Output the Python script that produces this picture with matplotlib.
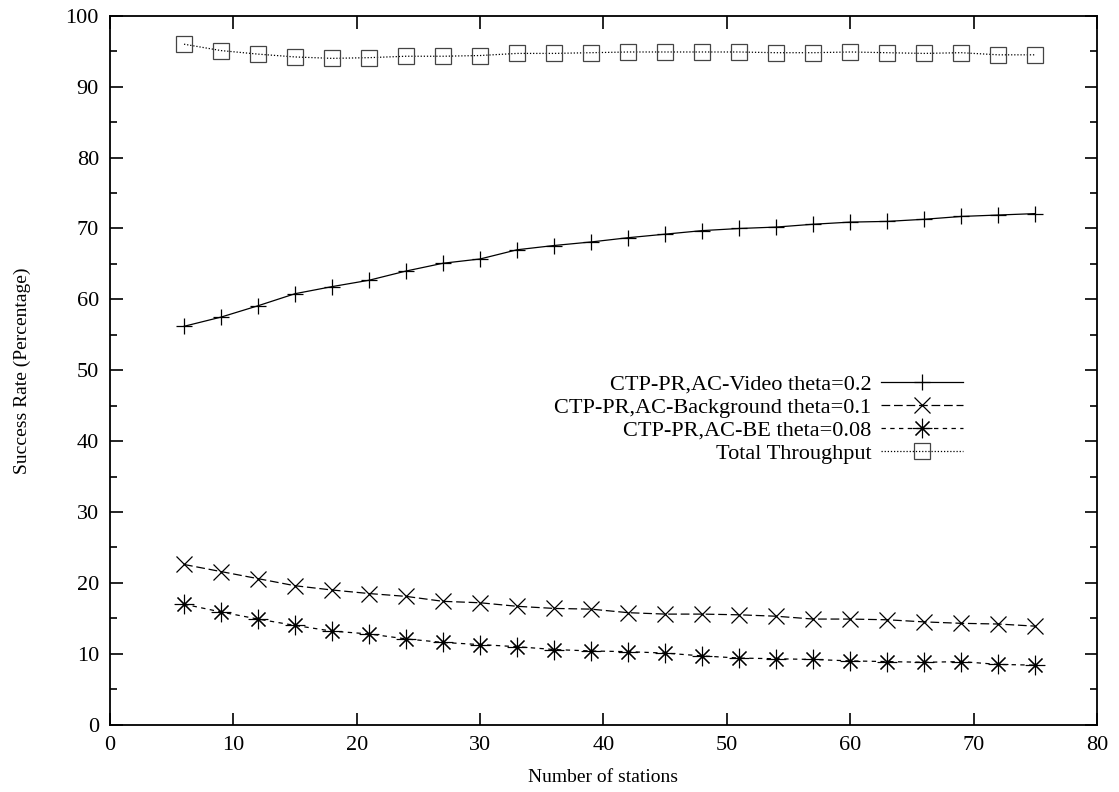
import numpy as np
import matplotlib
matplotlib.use('Agg')
import matplotlib.pyplot as plt
from matplotlib.ticker import MultipleLocator

plt.rcParams['font.family'] = ['Liberation Serif', 'DejaVu Serif']

stations = list(range(6, 76, 3))

video = [56.2, 57.5, 59.1, 60.8, 61.8, 62.7, 64.0, 65.1, 65.7, 67.0, 67.6, 68.1,
         68.7, 69.2, 69.7, 70.0, 70.2, 70.6, 70.9, 71.0, 71.3, 71.7, 71.9, 72.1]
background = [22.6, 21.6, 20.6, 19.6, 19.0, 18.5, 18.1, 17.4, 17.2, 16.7, 16.4, 16.3,
              15.8, 15.6, 15.6, 15.5, 15.3, 14.9, 14.9, 14.8, 14.5, 14.3, 14.2, 13.9]
best_effort = [17.0, 15.9, 14.9, 14.0, 13.2, 12.8, 12.1, 11.6, 11.3, 11.0, 10.6, 10.4,
               10.3, 10.1, 9.7, 9.4, 9.3, 9.2, 9.0, 8.9, 8.8, 8.9, 8.5, 8.4]
total = [96.0, 95.1, 94.6, 94.2, 94.0, 94.1, 94.3, 94.3, 94.4, 94.7, 94.7, 94.8,
         94.9, 94.9, 94.9, 94.9, 94.8, 94.8, 94.9, 94.8, 94.7, 94.8, 94.5, 94.5]

labels = ['CTP-PR,AC-Video theta=0.2', 'CTP-PR,AC-Background theta=0.1',
          'CTP-PR,AC-BE theta=0.08', 'Total Throughput']

fig = plt.figure(figsize=(11.19, 7.92), dpi=100)
ax = fig.add_axes([0.0983, 0.085, 0.882, 0.895])

lw = 0.9
ax.plot(stations, video, color='k', lw=lw, ls='-', marker='+', ms=11, mew=lw, label=labels[0])
ax.plot(stations, background, color='k', lw=lw, ls=(0, (7, 3)), marker='x', ms=11, mew=lw, label=labels[1])
ax.plot(stations, best_effort, color='k', lw=lw, ls=(0, (3.5, 3.5)), marker=(8, 2, 0), ms=14, mew=0.8, label=labels[2])
ax.plot(stations, total, color='k', lw=lw, ls=(0, (1, 1.5)), marker='s', ms=11, mew=lw,
        mfc='none', mec='#444444', label=labels[3])

ax.set_xlim(0, 80)
ax.set_ylim(0, 100)
ax.xaxis.set_major_locator(MultipleLocator(10))
ax.yaxis.set_major_locator(MultipleLocator(10))
ax.yaxis.set_minor_locator(MultipleLocator(5))
ax.tick_params(which='both', direction='in', top=True, right=True, width=1.2, labelsize=16, pad=8)
ax.tick_params(which='major', length=9)
ax.tick_params(which='minor', length=5)
for s in ax.spines.values():
    s.set_linewidth(1.3)

ax.set_xlabel('Number of stations', fontsize=14, labelpad=10)
ax.set_ylabel('Success Rate (Percentage)', fontsize=14, labelpad=25)

leg = ax.legend(loc='upper right', bbox_to_anchor=(0.864, 0.495), frameon=False,
                markerfirst=False, fontsize=16, handlelength=3.7, handletextpad=0.4,
                labelspacing=0.12, borderpad=0, borderaxespad=0)

plt.savefig('out.png', dpi=100)
plt.close()
